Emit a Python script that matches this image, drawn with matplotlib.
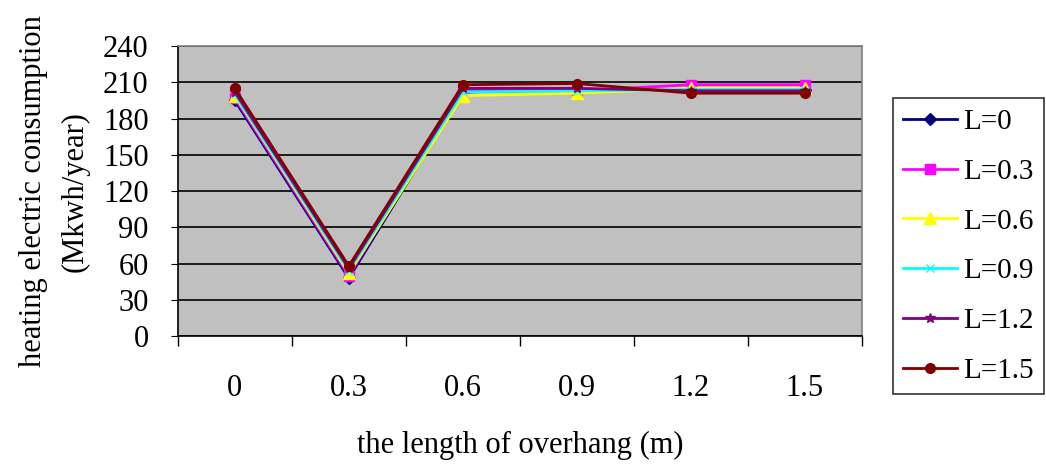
import matplotlib
matplotlib.use('Agg')
import matplotlib.pyplot as plt
from matplotlib.ticker import FixedLocator

plt.rcParams['font.family'] = ['Liberation Serif', 'DejaVu Serif']

#Data
categories = ['0', '0.3', '0.6', '0.9', '1.2', '1.5']
series_names = ['L=0', 'L=0.3', 'L=0.6', 'L=0.9', 'L=1.2', 'L=1.5']
l_00 = [195, 48, 202, 204, 204, 204]
l_03 = [197, 50, 204, 203, 208, 208]
l_06 = [199, 52, 199, 201, 205, 205]
l_09 = [200, 54, 202, 203, 204, 204]
l_12 = [202, 56, 205, 205, 203, 203]
l_15 = [205, 58, 208, 209, 201, 201]
yticks = [0, 30, 60, 90, 120, 150, 180, 210, 240]

series = [l_00, l_03, l_06, l_09, l_12, l_15]
colors = ['#000080', '#FF00FF', '#FFFF00', '#00FFFF', '#800080', '#800000']
markers = ['D', 's', '^', 'x', '*', 'o']
msizes = [6, 7, 8, 6, 7, 7]

fig = plt.figure(figsize=(10.46, 4.65), dpi=100)
ax = fig.add_axes([0.170, 0.277, 0.654, 0.624])
ax.set_facecolor('#C0C0C0')

x = list(range(len(categories)))
for vals, name, c, m, ms in zip(series, series_names, colors, markers, msizes):
    ax.plot(x, vals, color=c, marker=m, markersize=ms, linewidth=2,
            markerfacecolor=c, markeredgecolor=c, label=name)

ax.set_xlim(-0.5, len(categories) - 0.5)
ax.set_ylim(0, 240)
ax.set_yticks(yticks)
ax.tick_params(axis='y', labelsize=22, length=5, pad=16)
ax.grid(axis='y', color='black', linewidth=1.2)
ax.set_axisbelow(True)

ax.set_xticks(x)
ax.set_xticklabels(categories)
ax.xaxis.set_minor_locator(FixedLocator([i + 0.5 for i in range(-1, len(categories))]))
ax.tick_params(axis='x', which='major', length=0, labelsize=22, pad=27)
ax.tick_params(axis='x', which='minor', length=7, width=1)

for s in ax.spines.values():
    s.set_color('#808080')
    s.set_linewidth(1.2)
ax.spines['bottom'].set_color('black')
ax.spines['left'].set_color('black')

ax.set_xlabel('the length of overhang (m)', fontsize=22, labelpad=20)
ax.set_ylabel('heating electric consumption\n(Mkwh/year)', fontsize=22, labelpad=10,
              linespacing=1.55)

leg = ax.legend(loc='center left', bbox_to_anchor=(1.045, 0.31), fontsize=21,
                frameon=True, fancybox=False, edgecolor='black', handlelength=1.85,
                labelspacing=0.8, borderpad=0.35, handletextpad=0.2,
                borderaxespad=0)
leg.get_frame().set_linewidth(1.2)

fig.savefig('out.png', dpi=100)
